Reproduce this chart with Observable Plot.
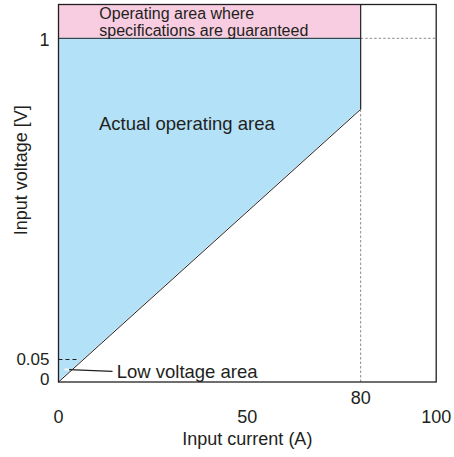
<!DOCTYPE html>
<html>
<head>
<meta charset="utf-8">
<script src="https://cdn.jsdelivr.net/npm/d3@7"></script>
<script src="https://cdn.jsdelivr.net/npm/@observablehq/plot@0.6"></script>
<style>
  html, body { margin: 0; padding: 0; background: #fff; }
  #chart svg { display: block; }
</style>
</head>
<body>
<div id="chart"></div>
<script>
// ---- data ----
const xTicksLow = [0, 50, 100];
const xTicksHigh = [80];
const yTicks = [1];
const yTickLow = [0.05];
const yTickZero = [0];
const actualCurrent = [0, 80];
const actualLow = [0, 0.79];
const actualHigh = [1, 1];
const specCurrent = [0, 80];
const specLow = [1, 1];
const specHigh = [1.1, 1.1];
const maxCurrent = 80;
const maxVoltage = 1.1;
const lowVoltage = 0.05;
const lowVoltageEnd = 5.5;
const guideLine = [{x1: 80, y1: 1, x2: 100, y2: 1}, {x1: 80, y1: 0, x2: 80, y2: 0.79}];
const leaderWhite = [{x1: 1.6, y1: 0.028, x2: 2.8, y2: 0.0275}];
const leaderBlack = [{x1: 2.8, y1: 0.0275, x2: 14.3, y2: 0.0235}];
const labels = [
  {x: 10.8, y: 1.048, text: "Operating area where\nspecifications are guaranteed", size: 16},
  {x: 10.7, y: 0.747, text: "Actual operating area", size: 18.5},
  {x: 15.4, y: 0.0235, text: "Low voltage area", size: 18.5}
];

const area = actualCurrent.map((c, i) => ({current: c, low: actualLow[i], high: actualHigh[i]}));
const spec = specCurrent.map((c, i) => ({current: c, low: specLow[i], high: specHigh[i]}));

const ink = "#231f20";
const blue = "#b3e1f7";
const pink = "#f8cde1";
const fmt = d => String(d);

const chart = Plot.plot({
  width: 454,
  height: 457,
  marginLeft: 58,
  marginRight: 18.3,
  marginTop: 4,
  marginBottom: 75.5,
  style: {fontFamily: "'Liberation Sans', Arial, sans-serif", fontSize: "18px", color: ink, background: "#fff"},
  x: {type: "linear", domain: [0, 100]},
  y: {type: "linear", domain: [0, 0.05, maxVoltage], range: [381.5, 359, 4]},
  marks: [
    Plot.areaY(spec, {x: "current", y1: "low", y2: "high", fill: pink}),
    Plot.areaY(area, {x: "current", y1: "low", y2: "high", fill: blue}),
    Plot.link(guideLine, {x1: "x1", y1: "y1", x2: "x2", y2: "y2", stroke: "#8a8a8a", strokeWidth: 1, strokeDasharray: "2.5,2"}),
    Plot.link([{x1: 0, x2: lowVoltageEnd, y: lowVoltage}], {x1: "x1", x2: "x2", y1: "y", y2: "y", stroke: ink, strokeWidth: 1, strokeDasharray: "4,3"}),
    // boundary lines
    Plot.link([{x1: 0, y1: 0, x2: maxCurrent, y2: 0.79}], {x1: "x1", y1: "y1", x2: "x2", y2: "y2", stroke: ink, strokeWidth: 1}),
    Plot.link([{x1: 0, y1: 1, x2: maxCurrent, y2: 1}], {x1: "x1", y1: "y1", x2: "x2", y2: "y2", stroke: ink, strokeWidth: 1}),
    Plot.link([{x1: maxCurrent, y1: 0.79, x2: maxCurrent, y2: maxVoltage}], {x1: "x1", y1: "y1", x2: "x2", y2: "y2", stroke: ink, strokeWidth: 1.2}),
    Plot.link(leaderWhite, {x1: "x1", y1: "y1", x2: "x2", y2: "y2", stroke: "#fff", strokeWidth: 1.6}),
    Plot.link(leaderBlack, {x1: "x1", y1: "y1", x2: "x2", y2: "y2", stroke: ink, strokeWidth: 1.3}),
    Plot.frame({stroke: ink, strokeWidth: 1.3}),
    Plot.text(labels, {x: "x", y: "y", text: "text", fontSize: "size", textAnchor: "start", lineAnchor: "middle", lineHeight: 1.07, fill: ink}),
    // axes
    Plot.axisX(xTicksLow, {tickSize: 0, tickPadding: 28, fontSize: 18, label: null, fill: ink, tickFormat: fmt}),
    Plot.axisX(xTicksHigh, {tickSize: 0, tickPadding: 9, fontSize: 18, label: null, fill: ink, tickFormat: fmt}),
    Plot.axisY(yTicks, {tickSize: 0, tickPadding: 9, fontSize: 18, label: null, fill: ink, dy: 2, tickFormat: fmt}),
    Plot.axisY(yTickLow, {tickSize: 0, tickPadding: 9, fontSize: 17, label: null, fill: ink, dy: 0.5, tickFormat: fmt}),
    Plot.axisY(yTickZero, {tickSize: 0, tickPadding: 9, fontSize: 17, label: null, fill: ink, dy: -2, tickFormat: fmt}),
    Plot.text(["Input current (A)"], {frameAnchor: "bottom", dy: 57.5, lineAnchor: "middle", textAnchor: "middle", fontSize: 18, fill: ink}),
    Plot.text(["Input voltage [V]"], {frameAnchor: "left", dx: -37, dy: -23, rotate: -90, lineAnchor: "middle", textAnchor: "middle", fontSize: 18, fill: ink})
  ]
});
document.getElementById("chart").appendChild(chart);
</script>
</body>
</html>
